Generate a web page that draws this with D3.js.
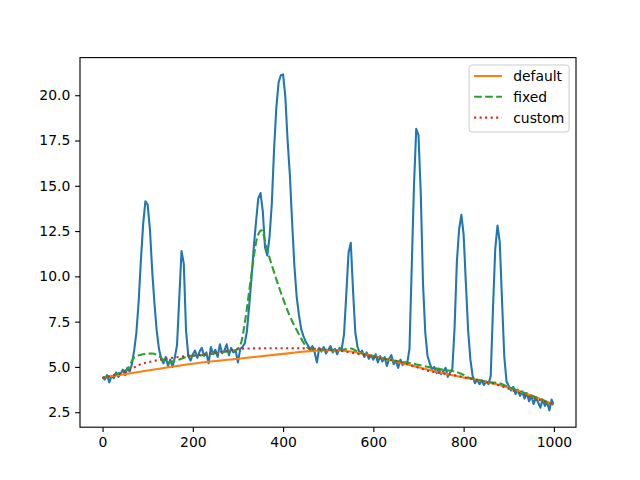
<!DOCTYPE html>
<html>
<head>
<meta charset="utf-8">
<script src="https://cdn.jsdelivr.net/npm/d3@7"></script>
<style>
  body { margin: 0; background: #fff; }
  svg text { font-family: "DejaVu Sans", sans-serif; }
</style>
</head>
<body>
<div id="chart"></div>
<script>
// Signal, every 5 units (last sample at 999)
const signalX = d3.range(0, 1000, 5).concat([999])
const signalY = [
  4.42, 4.30, 4.55, 4.15, 4.50, 4.38, 4.70, 4.45, 4.62, 4.85,
  4.55, 4.95, 4.75, 5.15, 5.90, 6.90, 8.60, 10.90, 12.90, 14.15,
  13.95, 12.60, 10.30, 8.50, 7.00, 6.00, 5.45, 5.20, 5.55, 5.05,
  5.40, 5.00, 5.50, 6.20, 8.80, 11.40, 10.70, 7.00, 5.60, 5.35,
  5.70, 5.90, 5.50, 5.85, 6.05, 5.60, 5.80, 5.20, 6.10, 5.70,
  5.95, 5.55, 6.25, 5.75, 5.90, 6.25, 5.65, 6.05, 5.80, 5.90,
  5.25, 6.00, 6.10, 6.30, 7.00, 8.40, 9.90, 11.60, 13.00, 14.30,
  14.60, 13.60, 11.60, 11.15, 12.20, 14.00, 17.00, 19.30, 20.70, 21.10,
  21.15, 19.90, 17.50, 15.60, 13.00, 10.60, 8.90, 7.90, 7.10, 6.70,
  6.40, 6.20, 5.95, 6.15, 5.80, 5.25, 6.05, 5.85, 6.10, 5.75,
  5.95, 6.15, 5.80, 6.00, 5.70, 6.05, 6.00, 6.80, 9.00, 11.30,
  11.85, 9.20, 6.90, 6.10, 5.75, 5.90, 5.55, 5.80, 5.45, 5.65,
  5.40, 5.70, 5.25, 5.60, 5.30, 5.55, 5.05, 5.45, 5.65, 5.15,
  5.35, 4.95, 5.40, 5.10, 5.25, 5.20, 6.00, 10.50, 15.00, 18.15,
  17.80, 14.60, 9.60, 6.90, 5.60, 5.20, 4.85, 5.00, 4.65, 4.90,
  4.60, 4.75, 4.95, 4.45, 4.70, 4.90, 7.20, 10.80, 12.60, 13.40,
  12.30, 9.60, 7.00, 5.40, 4.50, 4.10, 4.30, 4.05, 4.25, 4.00,
  4.20, 4.05, 4.50, 8.20, 11.50, 12.80, 11.90, 8.70, 5.60, 4.20,
  3.95, 3.70, 3.90, 3.50, 3.75, 3.40, 3.65, 3.25, 3.55, 3.10,
  3.40, 2.95, 3.30, 3.05, 2.75, 3.20, 2.85, 3.05, 2.60, 3.20,
  2.95
]

// Baseline estimates
const defaultX = [0, 100, 200, 300, 400, 450, 500, 550, 600, 650, 700, 750, 800, 850, 900, 950, 999]
const defaultY = [4.40, 4.80, 5.18, 5.45, 5.72, 5.85, 5.92, 5.85, 5.60, 5.30, 4.98, 4.68, 4.42, 4.18, 3.85, 3.42, 2.92]

const fixedX = [0, 25, 50, 55, 70, 85, 110, 129, 143, 158, 175, 192, 221, 260, 295, 306, 317, 328, 343, 352, 365,
  391, 413, 435, 450, 461, 490, 530, 550, 568, 600, 627, 660, 686, 701, 730, 760, 775, 797, 812, 830, 860, 875, 900, 950, 999]
const fixedY = [4.40, 4.55, 4.80, 4.87, 5.52, 5.67, 5.74, 5.52, 5.24, 5.33, 5.45, 5.61, 5.65, 5.80, 5.93, 6.26, 7.73, 9.77, 12.17, 12.54, 11.43,
  9.40, 7.92, 6.81, 6.17, 5.98, 5.95, 5.95, 6.02, 5.80, 5.60, 5.43, 5.30, 5.19, 5.11, 4.96, 4.82, 4.78, 4.60, 4.41, 4.30, 4.15, 4.12, 3.88, 3.42, 2.92]

const customX = [0, 55, 85, 114, 143, 192, 221, 260, 295, 320, 400, 460, 479, 524, 590, 664, 730, 767, 804, 878, 930, 999]
const customY = [4.40, 4.78, 5.15, 5.33, 5.46, 5.61, 5.67, 5.82, 5.96, 6.02, 6.03, 6.02, 5.98, 5.89, 5.61, 5.24, 4.74, 4.60, 4.41, 3.99, 3.50, 2.92]

const xTicks = [0, 200, 400, 600, 800, 1000]
const yTicks = [2.5, 5.0, 7.5, 10.0, 12.5, 15.0, 17.5, 20.0]
const legendLabels = ["default", "fixed", "custom"]

// Dimensions (matplotlib default figure)
const width = 640
const height = 480
const margin = {top: 57.6, right: 64, bottom: 52.8, left: 80}
const plotWidth = width - margin.left - margin.right
const plotHeight = height - margin.top - margin.bottom
const lw = 2.08
const fontSize = 13.9

const svg = d3.select("#chart")
  .append("svg")
    .attr("width", width)
    .attr("height", height)

const plot = svg.append("g")
    .attr("transform", `translate(${margin.left},${margin.top})`)

// Scales with 5% padding like matplotlib autoscale
const xExt = d3.extent(signalX)
const xPad = (xExt[1] - xExt[0]) * 0.05
const xScale = d3.scaleLinear()
    .domain([xExt[0] - xPad, xExt[1] + xPad])
    .range([0, plotWidth])

const yExt = d3.extent(signalY.concat(defaultY, fixedY, customY))
const yPad = (yExt[1] - yExt[0]) * 0.05
const yScale = d3.scaleLinear()
    .domain([yExt[0] - yPad, yExt[1] + yPad])
    .range([plotHeight, 0])

function toPoints(xs, ys) {
  return xs.map(function(x, i) { return [x, ys[i]] })
}

const series = [
  {pts: toPoints(signalX, signalY), color: "#1f77b4", dash: null, curve: d3.curveLinear},
  {pts: toPoints(defaultX, defaultY), color: "#ff7f0e", dash: null, curve: d3.curveMonotoneX},
  {pts: toPoints(fixedX, fixedY), color: "#2ca02c", dash: `${3.7 * lw},${1.6 * lw}`, curve: d3.curveMonotoneX},
  {pts: toPoints(customX, customY), color: "#d62728", dash: `${1 * lw},${1.65 * lw}`, curve: d3.curveMonotoneX},
]

series.forEach(function(s) {
  const line = d3.line()
      .x(function(d) { return xScale(d[0]) })
      .y(function(d) { return yScale(d[1]) })
      .curve(s.curve)
  plot.append("path")
      .datum(s.pts)
      .attr("fill", "none")
      .attr("stroke", s.color)
      .attr("stroke-width", lw)
      .attr("stroke-linejoin", "round")
      .attr("stroke-dasharray", s.dash)
      .attr("d", line)
})

// Axes
plot.append("g")
    .attr("transform", `translate(0,${plotHeight})`)
    .call(d3.axisBottom(xScale)
      .tickValues(xTicks)
      .tickSize(4.86)
      .tickPadding(4.86)
      .tickFormat(d3.format("d")))

plot.append("g")
    .call(d3.axisLeft(yScale)
      .tickValues(yTicks)
      .tickSize(4.86)
      .tickPadding(4.86)
      .tickFormat(d3.format(".1f")))

plot.selectAll(".domain").remove()
plot.selectAll(".tick line").attr("stroke", "#000").attr("stroke-width", 1.11)
plot.selectAll(".tick text")
    .attr("fill", "#000")
    .style("font-size", fontSize + "px")
    .style("font-family", "DejaVu Sans")

// Spines
plot.append("rect")
    .attr("width", plotWidth)
    .attr("height", plotHeight)
    .attr("fill", "none")
    .attr("stroke", "#000")
    .attr("stroke-width", 1.11)

// Legend
const legend = plot.append("g")
    .attr("transform", `translate(${plotWidth - 6.9 - 100.5},6.9)`)

legend.append("rect")
    .attr("x", 0.5)
    .attr("y", 0.5)
    .attr("width", 100)
    .attr("height", 67)
    .attr("rx", 2.8)
    .attr("fill", "#fff")
    .attr("fill-opacity", 0.8)
    .attr("stroke", "#cccccc")
    .attr("stroke-width", 1)

legendLabels.forEach(function(label, i) {
  const s = series[i + 1]
  const ry = 11.5 + i * 20.8
  legend.append("line")
      .attr("x1", 5.5)
      .attr("x2", 33.3)
      .attr("y1", ry)
      .attr("y2", ry)
      .attr("stroke", s.color)
      .attr("stroke-width", lw)
      .attr("stroke-dasharray", s.dash)
  legend.append("text")
      .attr("x", 44.6)
      .attr("y", ry)
      .attr("dy", "0.36em")
      .style("font-size", fontSize + "px")
      .text(label)
})
</script>
</body>
</html>
